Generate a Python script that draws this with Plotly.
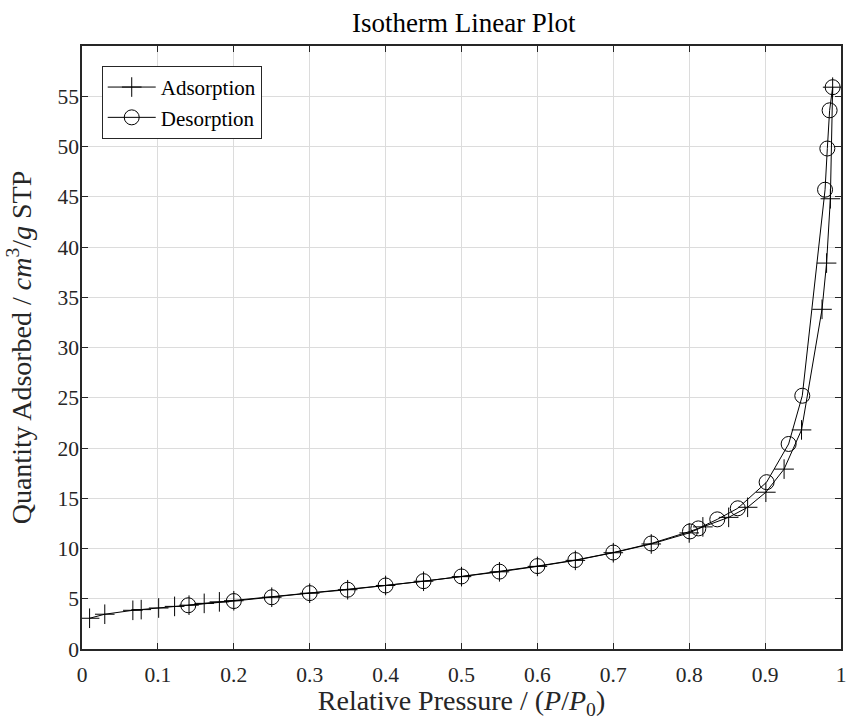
import plotly.graph_objects as go

ads_p = [0.010, 0.030, 0.067, 0.078, 0.101, 0.122, 0.141, 0.161, 0.181, 0.200,
         0.250, 0.300, 0.350, 0.400, 0.450, 0.500, 0.550, 0.600, 0.650, 0.700,
         0.750, 0.800, 0.818, 0.852, 0.877, 0.901, 0.925, 0.948, 0.975, 0.981,
         0.986, 0.989]
ads_v = [3.06, 3.46, 3.85, 3.92, 4.08, 4.24, 4.36, 4.54, 4.69, 4.80,
         5.15, 5.55, 5.90, 6.32, 6.74, 7.20, 7.68, 8.22, 8.82, 9.58,
         10.45, 11.55, 12.15, 13.1, 14.1, 15.6, 17.9, 21.8, 33.8, 38.4,
         44.8, 55.9]

des_p = [0.989, 0.985, 0.982, 0.979, 0.949, 0.931, 0.902, 0.864, 0.837, 0.812,
         0.801, 0.750, 0.700, 0.650, 0.600, 0.550, 0.500, 0.450, 0.400, 0.350,
         0.300, 0.250, 0.200, 0.140]
des_v = [55.9, 53.6, 49.8, 45.7, 25.2, 20.4, 16.6, 14.0, 12.9, 12.0,
         11.7, 10.5, 9.6, 8.85, 8.25, 7.7, 7.22, 6.75, 6.32, 5.9,
         5.56, 5.15, 4.77, 4.35]

x_ticks = [0, 0.1, 0.2, 0.3, 0.4, 0.5, 0.6, 0.7, 0.8, 0.9, 1]
x_labels = ["0", "0.1", "0.2", "0.3", "0.4", "0.5", "0.6", "0.7", "0.8", "0.9", "1"]
y_ticks = [0, 5, 10, 15, 20, 25, 30, 35, 40, 45, 50, 55]

FONT = "Liberation Serif"
AX = "#262626"

fig = go.Figure()
fig.add_trace(go.Scatter(
    x=ads_p, y=ads_v, name="Adsorption", mode="lines+markers",
    line=dict(color="black", width=1),
    marker=dict(symbol="cross-thin-open", size=14, color="black",
                line=dict(color="black", width=1)),
))
fig.add_trace(go.Scatter(
    x=des_p, y=des_v, name="Desorption", mode="lines+markers",
    line=dict(color="black", width=1),
    marker=dict(symbol="circle-open", size=15, color="black",
                line=dict(color="black", width=1)),
))

axis_common = dict(
    showline=True, linecolor=AX, linewidth=1.5, mirror="ticks",
    ticks="inside", ticklen=6, tickcolor=AX, tickwidth=1,
    showgrid=True, gridcolor="#dcdcdc", gridwidth=1,
    zeroline=False, tickfont=dict(family=FONT, size=21.5, color=AX),
)

fig.update_layout(
    width=850, height=720,
    margin=dict(l=82, r=4, t=46, b=71),
    paper_bgcolor="white", plot_bgcolor="white",
    font=dict(family=FONT, color=AX),
    title=dict(text="Isotherm Linear Plot", x=0.5455, xanchor="center",
               y=0.968, yanchor="middle", font=dict(family=FONT, size=27, color="black")),
    xaxis=dict(range=[0, 1], tickvals=x_ticks, ticktext=x_labels,
               ticklabelstandoff=5,
               title=dict(text="Relative Pressure / (<i>P</i>/<i>P</i><sub>0</sub>)",
                          font=dict(family=FONT, size=28, color=AX), standoff=3),
               **axis_common),
    yaxis=dict(range=[0, 60], tickvals=y_ticks, ticklabelstandoff=-3,
               title=dict(text="Quantity Adsorbed / <i>cm</i><sup>3</sup>/<i>g</i> STP",
                          font=dict(family=FONT, size=28, color=AX), standoff=18),
               **axis_common),
    legend=dict(x=0.026, y=0.967, xanchor="left", yanchor="top",
                bgcolor="white", bordercolor=AX, borderwidth=1,
                font=dict(family=FONT, size=21, color="black"),
                tracegroupgap=0, itemwidth=48),
    showlegend=True,
)

fig.write_html("out.html")
